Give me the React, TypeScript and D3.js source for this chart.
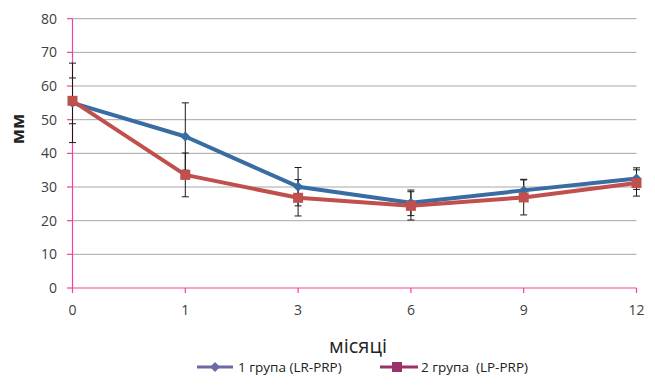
import React from "react";
import * as d3 from "d3";

const categories = ["0", "1", "3", "6", "9", "12"];
const group1 = [55, 45, 30.1, 25.3, 29, 32.5];
const group1Err = [11.8, 10, 5.7, 3.8, 3.3, 3.2];
const group2 = [55.6, 33.6, 26.8, 24.4, 26.9, 31.2];
const group2Err = [6.8, 6.5, 5.4, 4.2, 5.2, 3.9];
const yTicks = [0, 10, 20, 30, 40, 50, 60, 70, 80];
const seriesNames = ["1 група (LR-PRP)", "2 група  (LP-PRP)"];

const W = 655, H = 391;
const left = 72.5, right = 636.5, top = 18.7, bottom = 288;
const font = "'Open Sans', 'Noto Sans', sans-serif";

export default function App() {
  const x = d3.scalePoint<string>().domain(categories).range([left, right]);
  const y = d3.scaleLinear().domain([0, 80]).range([bottom, top]);
  const line = d3.line<number>().x((_, i) => x(categories[i])!).y((d) => y(d));
  const pink = "#f0449c";
  const blue = "#386ca2";
  const red = "#c0504d";

  const errBars = (vals: number[], errs: number[], key: string) =>
    vals.map((v, i) => {
      const cx = x(categories[i])!;
      const y1 = y(v + errs[i]);
      const y2 = y(v - errs[i]);
      return (
        <g key={key + i} stroke="#1a1a1a" strokeWidth={1}>
          <line x1={cx} x2={cx} y1={y1} y2={y2} />
          <line x1={cx - 3.5} x2={cx + 3.5} y1={y1} y2={y1} />
          <line x1={cx - 3.5} x2={cx + 3.5} y1={y2} y2={y2} />
        </g>
      );
    });

  return (
    <svg width={W} height={H} style={{ position: "absolute", left: 0, top: 0, background: "#fff" }}>
      <rect width={W} height={H} fill="#fff" />
      {yTicks.filter((t) => t > 0).map((t) => (
        <line key={"g" + t} x1={left} x2={right} y1={y(t)} y2={y(t)} stroke="#a6a6a6" strokeWidth={1} />
      ))}
      {/* axes */}
      <line x1={left} x2={left} y1={top} y2={bottom} stroke={pink} strokeWidth={1.2} />
      <line x1={left} x2={right} y1={bottom} y2={bottom} stroke={pink} strokeWidth={1.2} />
      {yTicks.map((t) => (
        <g key={"yt" + t}>
          <line x1={left - 5.5} x2={left} y1={y(t)} y2={y(t)} stroke={pink} strokeWidth={1.2} />
          <text x={57} y={y(t)} dy="0.35em" textAnchor="end" fontFamily={font} fontSize={14} fill="#404040">
            {t}
          </text>
        </g>
      ))}
      {categories.map((c) => (
        <g key={"xt" + c}>
          <line x1={x(c)} x2={x(c)} y1={bottom} y2={bottom + 5} stroke={pink} strokeWidth={1.2} />
          <text x={x(c)} y={310.5} dy="0.35em" textAnchor="middle" fontFamily={font} fontSize={14} fill="#404040">
            {c}
          </text>
        </g>
      ))}
      <text
        transform={`translate(18,129) rotate(-90)`}
        textAnchor="middle"
        dy="0.35em"
        fontFamily={font}
        fontSize={18}
        fontWeight="bold"
        fill="#222"
      >
        мм
      </text>
      <text x={358} y={353} textAnchor="middle" fontFamily={font} fontSize={20} fill="#222">
        місяці
      </text>
      {errBars(group1, group1Err, "e1")}
      {errBars(group2, group2Err, "e2")}
      <path d={line(group1)!} fill="none" stroke={blue} strokeWidth={4} strokeLinejoin="round" />
      {group1.map((v, i) => {
        const cx = x(categories[i])!, cy = y(v);
        return <path key={"m1" + i} d={`M${cx},${cy - 5}L${cx + 5},${cy}L${cx},${cy + 5}L${cx - 5},${cy}Z`} fill={blue} />;
      })}
      <path d={line(group2)!} fill="none" stroke={red} strokeWidth={4} strokeLinejoin="round" />
      {group2.map((v, i) => {
        const cx = x(categories[i])!, cy = y(v);
        return <rect key={"m2" + i} x={cx - 5} y={cy - 5} width={10} height={10} fill={red} />;
      })}
      {/* legend */}
      <g>
        <line x1={197} x2={233} y1={367} y2={367} stroke="#6a6aa6" strokeWidth={3} />
        <path d="M215,362L220,367L215,372L210,367Z" fill="#6a6aa6" />
        <text x={238} y={367} dy="0.35em" fontFamily={font} fontSize={13.5} fill="#222">
          {seriesNames[0]}
        </text>
        <line x1={380} x2={418} y1={367} y2={367} stroke="#9b3366" strokeWidth={3} />
        <rect x={392} y={362} width={10} height={10} fill="#9b3366" />
        <text x={421} y={367} dy="0.35em" fontFamily={font} fontSize={13.5} fill="#222" style={{ whiteSpace: "pre" }}>
          {seriesNames[1]}
        </text>
      </g>
    </svg>
  );
}
